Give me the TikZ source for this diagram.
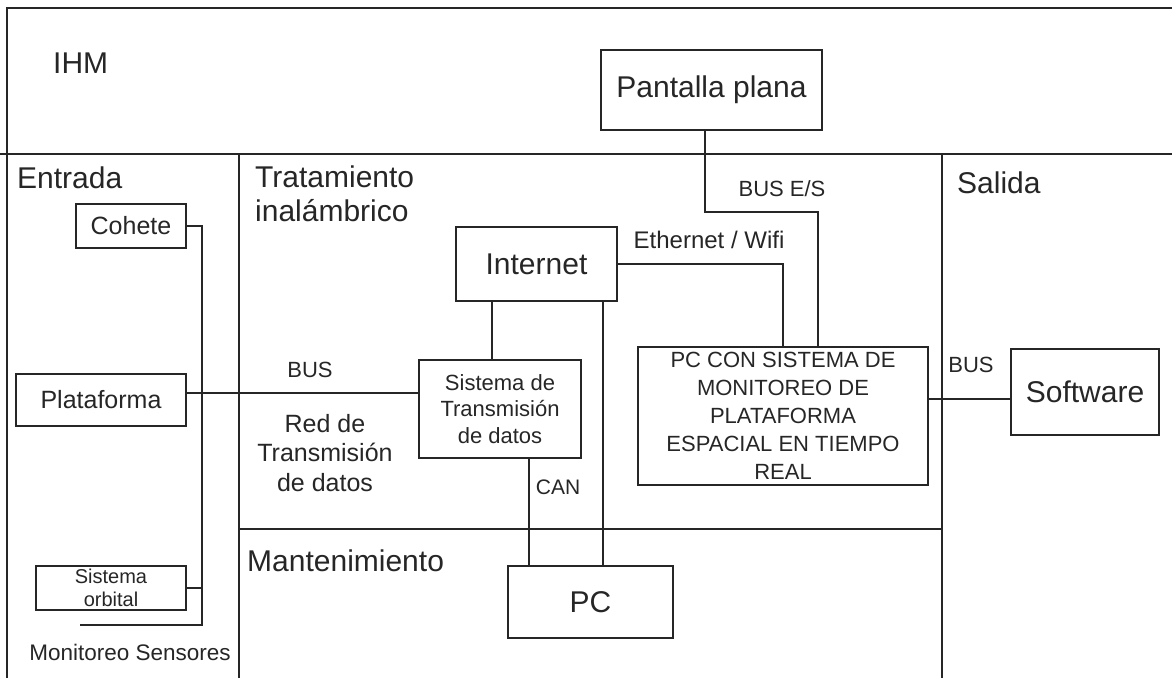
\documentclass[tikz,border=0pt]{standalone}
\usepackage{fontspec}
\setmainfont{Liberation Sans}
\newcommand{\fsz}[1]{\fontsize{#1}{#1}\selectfont}
\begin{document}
\begin{tikzpicture}[x=1pt,y=-1pt,
  line/.style={line width=1.5pt,black!85},
  box/.style={draw,line width=1.5pt,black!85,text=black!85,inner sep=0pt,align=center},
  lbl/.style={text=black!85,inner sep=0pt},
]
\useasboundingbox (0,0) rectangle (1172,678);
% regions
\draw[line] (7,678) -- (7,8) -- (1172,8);
\draw[line] (0,154) -- (1172,154);
\draw[line] (239,154) -- (239,678);
\draw[line] (942,154) -- (942,678);
\draw[line] (239,529) -- (942,529);
% region labels
\node[lbl,anchor=west,font=\fsz{30}] (ihm) at (53,63) {IHM};
\node[lbl,anchor=west,font=\fsz{30}] (entrada) at (17,178) {Entrada};
\node[lbl,anchor=north west,align=left,font={\fontsize{30}{34}\selectfont}] (trat) at (255,166) {Tratamiento\\inalámbrico};
\node[lbl,anchor=west,font=\fsz{30}] (salida) at (957,183) {Salida};
\node[lbl,anchor=west,font=\fsz{30}] (mant) at (247,561) {Mantenimiento};
% boxes
\node[box,minimum width=221pt,minimum height=80pt,font=\fsz{30}] (pantalla) at (711.5,90) {Pantalla plana};
\node[box,minimum width=110pt,minimum height=44pt,font=\fsz{25}] (cohete) at (131,226) {Cohete};
\node[box,minimum width=170pt,minimum height=52pt,font=\fsz{25}] (plataforma) at (101,400) {Plataforma};
\node[box,minimum width=150pt,minimum height=44pt,font={\fontsize{20}{23}\selectfont}] (orbital) at (111,588) {Sistema\\orbital};
\node[box,minimum width=161pt,minimum height=74pt,font=\fsz{30}] (internet) at (536.5,264) {Internet};
\node[box,minimum width=162pt,minimum height=98pt,font={\fontsize{22}{26.5}\selectfont}] (sistema) at (500,409) {Sistema de\\Transmisión\\de datos};
\node[box,minimum width=290pt,minimum height=138pt,font={\fontsize{22}{28}\selectfont}] (pcmon) at (783,416) {PC CON SISTEMA DE\\MONITOREO DE\\PLATAFORMA\\ESPACIAL EN TIEMPO\\REAL};
\node[box,minimum width=148pt,minimum height=86pt,font=\fsz{30}] (software) at (1085,392) {Software};
\node[box,minimum width=165pt,minimum height=72pt,font=\fsz{30}] (pc) at (590.5,602) {PC};
% connector labels
\node[lbl,font=\fsz{22.5}] (monit) at (130,652) {Monitoreo Sensores};
\node[lbl,font=\fsz{22}] (bus1) at (310,370) {BUS};
\node[lbl,align=center,font={\fontsize{25}{29.5}\selectfont}] (red) at (325,453) {Red de\\Transmisión\\de datos};
\node[lbl,font=\fsz{21}] (can) at (558,487) {CAN};
\node[lbl,font=\fsz{24}] (eth) at (709,240) {Ethernet / Wifi};
\node[lbl,font=\fsz{22}] (buses) at (782,189) {BUS E/S};
\node[lbl,font=\fsz{22}] (bus2) at (971,365) {BUS};
% coordinates
\coordinate (b1) at (705,212);
\coordinate (b2) at (818,212);
\coordinate (c1) at (492,300);
\coordinate (c2) at (603,300);
\coordinate (c3) at (0,393);
\coordinate (c4) at (0,399);
\coordinate (c5) at (529,460);
\coordinate (v1) at (202,226);
\coordinate (v2) at (202,625);
\coordinate (v3) at (80,625);
% connectors
\draw[line] (pantalla.south -| b1) -- (b1) -- (b2) -- (b2 |- pcmon.north);
\draw[line] (internet.east) -| (pcmon.north);
\draw[line] (internet.south -| c1) -- (sistema.north -| c1);
\draw[line] (internet.south -| c2) -- (pc.north -| c2);
\draw[line] (sistema.south -| c5) -- (pc.north -| c5);
\draw[line] (plataforma.east |- c3) -- (sistema.west |- c3);
\draw[line] (pcmon.east |- c4) -- (software.west |- c4);
\draw[line] (cohete.east) -- (v1) -- (v2) -- (v3);
\draw[line] (orbital.east) -- (orbital.east -| v1);
\end{tikzpicture}
\end{document}
